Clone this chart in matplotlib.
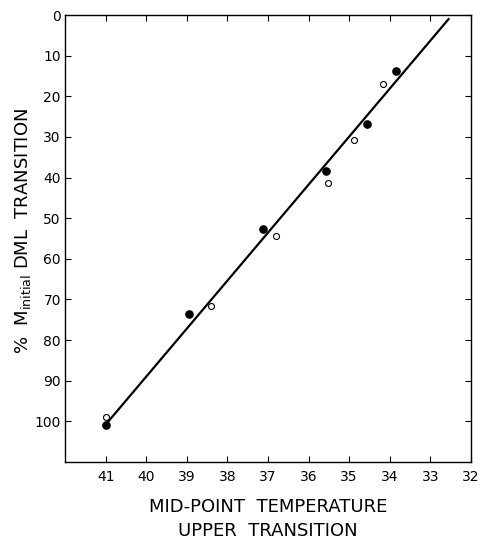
import matplotlib
matplotlib.use("Agg")
import matplotlib.pyplot as plt

# Data
filled_temp = [33.85, 34.55, 35.56, 37.12, 38.95, 41.0]
filled_pct = [13.8, 26.8, 38.5, 52.6, 73.6, 101.0]
open_temp = [34.17, 34.88, 35.51, 36.80, 38.41, 41.0]
open_pct = [17.0, 30.7, 41.4, 54.5, 71.7, 99.0]
fit_temp = [40.95, 32.55]
fit_pct = [100.2, 1.0]

x_ticks = [41, 40, 39, 38, 37, 36, 35, 34, 33, 32]
y_ticks = [0, 10, 20, 30, 40, 50, 60, 70, 80, 90, 100]

plt.rcParams['font.family'] = ['DejaVu Sans']
fig = plt.figure(figsize=(4.82, 5.4), dpi=100)
ax = fig.add_axes([0.135, 0.1444, 0.842, 0.8278])

ax.plot(fit_temp, fit_pct, color='black', lw=1.6, zorder=2)
ax.plot(filled_temp, filled_pct, 'o', color='black', ms=5.2, zorder=3)
ax.plot(open_temp, open_pct, 'o', mfc='white', mec='black', mew=0.8, ms=4.3, zorder=3)

ax.set_xlim(42, 32)
ax.set_ylim(110, 0)
ax.set_xticks(x_ticks)
ax.set_yticks(y_ticks)
ax.tick_params(direction='in', length=4, width=0.8, top=True, right=True,
               labelsize=10, colors='black')
ax.tick_params(axis='x', pad=6)
ax.tick_params(axis='y', pad=3)
for s in ax.spines.values():
    s.set_linewidth(1.0)

fig.text(0.556, 0.061, "MID-POINT  TEMPERATURE", ha='center', va='center', fontsize=13)
fig.text(0.556, 0.0165, "UPPER  TRANSITION", ha='center', va='center', fontsize=13)
fig.text(0.048, 0.572, r"%  M$_{\rm initial}$ DML  TRANSITION", rotation=90,
         ha='center', va='center', fontsize=13)

fig.savefig("out.png", dpi=100)
